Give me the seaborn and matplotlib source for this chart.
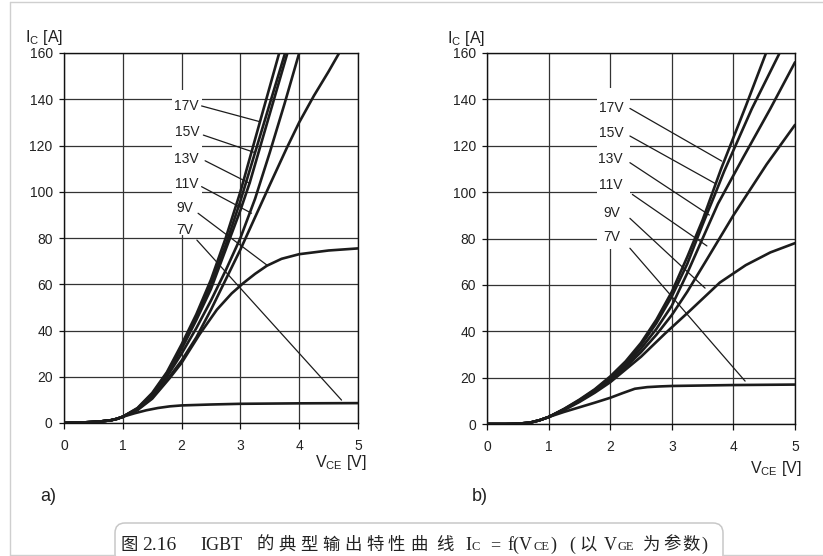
import numpy as np
import pandas as pd
import seaborn as sns
import matplotlib
matplotlib.use("Agg")
import matplotlib.pyplot as plt
from matplotlib.patches import Rectangle, FancyBboxPatch
from matplotlib.lines import Line2D

# ---------------- data ----------------
# panel a)
a7_v  = [0, 0.3, 0.6, 0.8, 0.9, 1.0, 1.2, 1.4, 1.6, 1.8, 2.0, 2.5, 3.0, 4.0, 5.0]
a7_i  = [0, 0.2, 0.6, 1.2, 1.8, 2.7, 4.2, 5.5, 6.5, 7.2, 7.6, 8.0, 8.3, 8.5, 8.6]
a9_v  = [0, 0.3, 0.6, 0.8, 0.9, 1.0, 1.25, 1.5, 1.8, 2.0, 2.31, 2.6, 2.85, 3.05, 3.25, 3.45, 3.7, 4.0, 4.5, 5.0]
a9_i  = [0, 0.2, 0.6, 1.2, 1.8, 2.7, 5.6, 10.5, 19.5, 26, 38.5, 49, 56, 60.5, 64.5, 68, 71, 73, 74.6, 75.5]
ax_v  = [0, 0.3, 0.6, 0.8, 0.9, 1.0, 1.25, 1.5, 1.75, 2.0, 2.25, 2.5, 2.75, 3.0, 3.25, 3.5, 3.79, 4.0, 4.25, 4.5, 4.68]
ax_i  = [0, 0.2, 0.6, 1.2, 1.8, 2.7, 5.8, 11, 18.5, 27, 37, 49, 62, 75, 89, 103, 119, 130, 141.5, 152, 160]
a11_v = [0, 0.3, 0.6, 0.8, 0.9, 1.0, 1.25, 1.5, 1.75, 2.0, 2.25, 2.5, 2.75, 3.0, 3.25, 3.5, 3.75, 4.0]
a11_i = [0, 0.2, 0.6, 1.2, 1.8, 2.7, 6.0, 11.5, 20, 30, 41, 53, 66, 80, 97, 117, 138, 160]
a13_v = [0, 0.3, 0.6, 0.8, 0.9, 1.0, 1.25, 1.5, 1.75, 2.0, 2.25, 2.5, 2.75, 3.0, 3.16, 3.8]
a13_i = [0, 0.2, 0.6, 1.2, 1.8, 2.7, 6.1, 12, 21, 32, 44.5, 58, 75, 92, 104, 160]
a15_v = [0, 0.3, 0.6, 0.8, 0.9, 1.0, 1.25, 1.5, 1.75, 2.0, 2.25, 2.5, 2.75, 3.0, 3.25, 3.76]
a15_i = [0, 0.2, 0.6, 1.2, 1.8, 2.7, 6.3, 12.5, 21.5, 33, 46, 60, 77, 96, 117, 160]
a17_v = [0, 0.3, 0.6, 0.8, 0.9, 1.0, 1.25, 1.5, 1.75, 2.0, 2.25, 2.5, 2.75, 3.0, 3.33, 3.66]
a17_i = [0, 0.2, 0.6, 1.2, 1.8, 2.7, 6.5, 13, 22, 34, 47, 62, 80, 100, 130, 160]

# panel b)
b7_v  = [0, 0.3, 0.5, 0.7, 0.85, 1.0, 1.25, 1.5, 1.75, 2.0, 2.2, 2.4, 2.6, 2.8, 3.0, 4.0, 5.0]
b7_i  = [0, 0, 0.1, 0.6, 1.6, 3.0, 5.2, 7.2, 9.2, 11.3, 13.3, 15.2, 15.9, 16.2, 16.4, 16.8, 17.0]
b9_v  = [0, 0.3, 0.5, 0.7, 0.85, 1.0, 1.25, 1.5, 1.75, 2.0, 2.25, 2.5, 2.89, 3.3, 3.78, 4.2, 4.6, 5.0]
b9_i  = [0, 0, 0.1, 0.6, 1.6, 3.0, 6.0, 9.5, 13.5, 18, 23.5, 29, 39, 49, 61, 68.5, 74, 78]
b11_v = [0, 0.3, 0.5, 0.7, 0.85, 1.0, 1.25, 1.5, 1.75, 2.0, 2.25, 2.5, 2.75, 3.0, 3.25, 3.57, 4.0, 4.54, 5.0]
b11_i = [0, 0, 0.1, 0.6, 1.6, 3.0, 6.2, 9.8, 14, 19, 24.5, 31, 38.5, 47, 57, 71, 90, 112, 129]
b13_v = [0, 0.3, 0.5, 0.7, 0.85, 1.0, 1.25, 1.5, 1.75, 2.0, 2.25, 2.5, 2.75, 3.0, 3.25, 3.5, 3.75, 4.16, 4.6, 5.0]
b13_i = [0, 0, 0.1, 0.6, 1.6, 3.0, 6.3, 10, 14.3, 19.5, 25.5, 32.5, 41, 51, 65, 80, 95, 115, 136, 156]
b15_v = [0, 0.3, 0.5, 0.7, 0.85, 1.0, 1.25, 1.5, 1.75, 2.0, 2.25, 2.5, 2.75, 3.0, 3.25, 3.5, 3.7, 3.85, 4.3, 4.75]
b15_i = [0, 0, 0.1, 0.6, 1.6, 3.0, 6.4, 10.3, 14.7, 20, 26.3, 34, 43.5, 55, 69, 86, 99, 109, 136, 160]
b17_v = [0, 0.3, 0.5, 0.7, 0.85, 1.0, 1.25, 1.5, 1.75, 2.0, 2.25, 2.5, 2.75, 3.0, 3.25, 3.5, 3.8, 4.2, 4.53]
b17_i = [0, 0, 0.1, 0.6, 1.6, 3.0, 6.5, 10.5, 15, 20.5, 27, 35, 45, 57, 72, 88, 110, 137, 160]

curve_labels = ["17V", "15V", "13V", "11V", "9V", "7V"]
x_ticks = [0, 1, 2, 3, 4, 5]
y_ticks = [0, 20, 40, 60, 80, 100, 120, 140, 160]

# annotation layout (label centre, pointer start, pointer end) in data units
a_lab_pos = [(2.087, 137.1), (2.097, 126.0), (2.075, 114.0), (2.087, 103.2), (2.058, 92.8), (2.046, 83.5)]
a_ptr_start = [(2.34, 137.1), (2.37, 124.5), (2.40, 113.4), (2.34, 102.2), (2.28, 90.7), (2.26, 79.1)]
a_ptr_end = [(3.33, 130.3), (3.25, 116.9), (3.16, 103.6), (3.19, 90.7), (3.45, 68.3), (4.72, 9.9)]
b_lab_pos = [(2.024, 136.1), (2.013, 125.4), (1.997, 114.1), (2.013, 103.1), (2.024, 90.9), (2.024, 80.5)]
b_ptr_start = [(2.32, 136.1), (2.32, 124.2), (2.32, 112.7), (2.36, 99.0), (2.32, 88.7), (2.32, 75.8)]
b_ptr_end = [(3.81, 113.4), (3.70, 103.8), (3.61, 90.1), (3.57, 76.8), (3.54, 58.6), (4.19, 18.5)]


def frame(curves):
    rows = []
    for name, v, i in curves:
        rows.append(pd.DataFrame({"V": v, "I": i, "curve": name}))
    return pd.concat(rows, ignore_index=True)


df_a = frame([("7", a7_v, a7_i), ("9", a9_v, a9_i), ("x", ax_v, ax_i), ("11", a11_v, a11_i),
              ("13", a13_v, a13_i), ("15", a15_v, a15_i), ("17", a17_v, a17_i)])
df_b = frame([("7", b7_v, b7_i), ("9", b9_v, b9_i), ("11", b11_v, b11_i),
              ("13", b13_v, b13_i), ("15", b15_v, b15_i), ("17", b17_v, b17_i)])

# ---------------- style ----------------
sns.set_style("white")
plt.rcParams["font.family"] = ["Liberation Sans", "DejaVu Sans"]
plt.rcParams["mathtext.fontset"] = "custom"
plt.rcParams["mathtext.rm"] = "Liberation Sans"
plt.rcParams["mathtext.it"] = "Liberation Sans:italic"

W, H = 823, 556
fig = plt.figure(figsize=(W / 100, H / 100), dpi=100)
fig.patch.set_facecolor("white")


def fx(px):
    return px / W


def fy(py):
    return 1 - py / H


ax_a = fig.add_axes([fx(64), fy(423), fx(358) - fx(64), fy(53) - fy(423)])
ax_b = fig.add_axes([fx(487), fy(424), fx(795) - fx(487), fy(53) - fy(424)])

panels = [
    (ax_a, df_a, a_lab_pos, a_ptr_start, a_ptr_end, (1.84, 81.5, 0.51, 62.5)),
    (ax_b, df_b, b_lab_pos, b_ptr_start, b_ptr_end, (1.78, 75.5, 0.54, 69.5)),
]

for ax, df, lab_pos, p0, p1, mask in panels:
    sns.lineplot(data=df, x="V", y="I", units="curve", estimator=None, sort=False,
                 color="#1c1c1c", linewidth=1.9, ax=ax, legend=False, zorder=3)
    ax.set_xlim(0, 5)
    ax.set_ylim(0, 160)
    ax.set_xticks(x_ticks)
    ax.set_yticks(y_ticks)
    ax.set_xlabel("")
    ax.set_ylabel("")
    ax.set_axisbelow(True)
    ax.grid(True, color="#333333", linewidth=0.9)
    for s in ax.spines.values():
        s.set_color("#111111")
        s.set_linewidth(1.0)
    ax.tick_params(axis="x", direction="out", length=4.5, width=0.9, color="#111111",
                   labelsize=10, pad=7, labelcolor="#222222", bottom=True)
    ax.tick_params(axis="y", direction="out", length=3.6, width=0.9, color="#111111",
                   labelsize=10, pad=4.5, labelcolor="#222222", left=True)
    ax.add_patch(Rectangle((mask[0], mask[1]), mask[2], mask[3], facecolor="white",
                           edgecolor="none", zorder=1))
    for txt, (lx, ly), s0, s1 in zip(curve_labels, lab_pos, p0, p1):
        ax.text(lx, ly, txt, ha="center", va="center", fontsize=10, color="#222222", zorder=4)
        ax.annotate("", xy=s1, xytext=s0,
                    arrowprops=dict(arrowstyle="-", lw=0.9, color="#1c1c1c",
                                    shrinkA=0, shrinkB=0), zorder=4)

# axis titles
fig.text(fx(25), fy(41.7), r"$\mathregular{I_C}$ [A]", fontsize=11.5, ha="left", va="baseline", color="#222222")
fig.text(fx(447), fy(42.5), r"$\mathregular{I_C}$ [A]", fontsize=11.5, ha="left", va="baseline", color="#222222")
fig.text(fx(367), fy(466.7), r"$\mathregular{V_{CE}}$ [V]", fontsize=11.5, ha="right", va="baseline", color="#222222")
fig.text(fx(802), fy(473), r"$\mathregular{V_{CE}}$ [V]", fontsize=11.5, ha="right", va="baseline", color="#222222")
fig.text(fx(40), fy(501), "a)", fontsize=13, ha="left", va="baseline", color="#222222")
fig.text(fx(472), fy(501), "b)", fontsize=13, ha="left", va="baseline", color="#222222")

# outer light frame
border = "#cfcfcf"
for (x0, y0, x1, y1) in [(10, 2, 823, 2), (10, 2, 10, 555), (10, 555, 115, 555), (723, 555, 823, 555)]:
    fig.add_artist(Line2D([fx(x0), fx(x1)], [fy(y0), fy(y1)], color=border, lw=1.0,
                          transform=fig.transFigure))

# caption box
box = FancyBboxPatch((115, -10), 608, 556 - 523 + 10, boxstyle="round,pad=0,rounding_size=10",
                     facecolor="white", edgecolor="#c8c8c8", lw=1.1, transform=None)
fig.add_artist(box)

cap_base = fy(550)
cjk = ["Noto Sans CJK SC", "DejaVu Sans"]
serif = ["Liberation Serif", "DejaVu Serif"]
L, S, C = 13, 9, 12.5
pieces = [("图", 121, cjk, C), ("2.16", 142, serif, 14), ("IGBT", 200, serif, L)]
for k, ch in enumerate("的典型输出特性曲"):
    pieces.append((ch, 256 + 22 * k, cjk, C))
pieces += [("线", 436, cjk, C), ("I", 465, serif, L), ("C", 472, serif, S),
           ("=", 490, serif, L), ("f(V", 507, serif, L), ("CE", 533, serif, S),
           (")", 550, serif, L), ("(", 569, serif, L), ("以", 579, cjk, C),
           ("V", 604, serif, L), ("GE", 618, serif, S), ("为", 642, cjk, C),
           ("参", 663, cjk, C), ("数", 682, cjk, C), (")", 701, serif, L)]
for s, xpx, fam, size in pieces:
    fig.text(fx(xpx), cap_base, s, family=fam, fontsize=size, ha="left", va="baseline", color="#222222")

fig.savefig("out.png", dpi=100, facecolor="white")
